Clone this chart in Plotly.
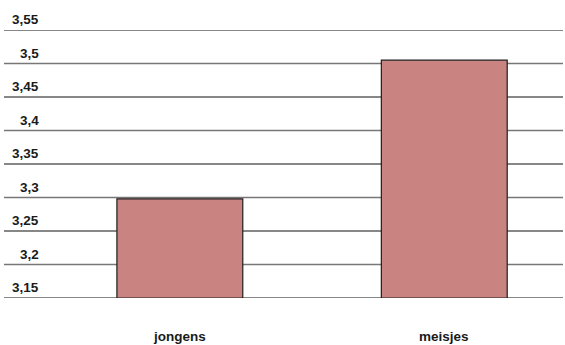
import plotly.graph_objects as go

categories = ["jongens", "meisjes"]
values = [3.298, 3.505]
base_value = 3.15
tick_values = [3.15, 3.2, 3.25, 3.3, 3.35, 3.4, 3.45, 3.5, 3.55]
tick_labels = ["3,15", "3,2", "3,25", "3,3", "3,35", "3,4", "3,45", "3,5", "3,55"]

FONT = "Liberation Sans, Arial, sans-serif"
TEXT_COLOR = "#1a1a1a"

fig = go.Figure()
fig.add_trace(go.Bar(
    x=[0, 1],
    y=[v - base_value for v in values],
    base=base_value,
    width=0.476,
    marker=dict(color="#C98380", line=dict(color="#1e1e1e", width=1.2)),
    hoverinfo="skip",
))

# horizontal grid lines (drawn below bars)
for i, v in enumerate(tick_values):
    dark = (i % 2 == 0)
    fig.add_shape(
        type="line", xref="paper", x0=0, x1=1, yref="y", y0=v, y1=v,
        line=dict(color="#111111" if dark else "#777777", width=1.2 if dark else 1.6),
        layer="below",
    )

# y tick labels sit above their grid line
for v, t in zip(tick_values, tick_labels):
    fig.add_annotation(
        x=0.0655, xref="paper", xanchor="right",
        y=v, yref="y", yanchor="bottom", yshift=1,
        text=f"<b>{t}</b>", showarrow=False,
        font=dict(family=FONT, size=13.5, color=TEXT_COLOR),
    )

# category labels
for i, c in enumerate(categories):
    fig.add_annotation(
        x=i, xref="x", xanchor="center",
        y=0, yref="paper", yanchor="middle", yshift=-38,
        text=f"<b>{c}</b>", showarrow=False,
        font=dict(family=FONT, size=13.5, color=TEXT_COLOR),
    )

fig.update_layout(
    width=565, height=345,
    margin=dict(l=4, r=2, t=30, b=47),
    paper_bgcolor="white", plot_bgcolor="white",
    showlegend=False,
    xaxis=dict(
        range=[-0.665, 1.449],
        showticklabels=False,
        showgrid=False, zeroline=False, showline=False, ticks="",
    ),
    yaxis=dict(
        range=[3.15, 3.55],
        showticklabels=False,
        showgrid=False, zeroline=False, showline=False, ticks="",
    ),
)

fig.write_html("out.html", config={"displayModeBar": False},
               post_script="document.body.style.margin='0px';")
